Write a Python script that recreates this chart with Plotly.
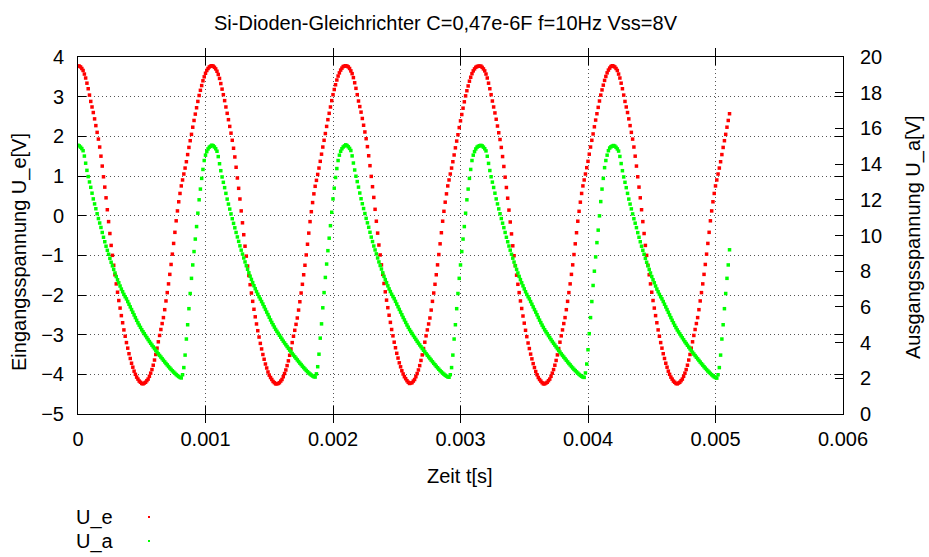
import plotly.graph_objects as go

# Sampling clock of the recording (s)
dt = 0.00001

# Eingangsspannung U_e [V] (left axis)
u_e = [
    # falling 0 .. 0.51 ms
    3.77, 3.77, 3.75, 3.71, 3.66, 3.57, 3.47, 3.34, 3.20, 3.04, 2.88, 2.74, 2.60, 2.44, 2.27, 2.10, 1.93, 1.73, 1.50, 1.25,
    0.98, 0.72, 0.45, 0.15, -0.15, -0.45, -0.75, -1.00, -1.25, -1.49, -1.72, -1.93, -2.14, -2.33, -2.52, -2.70, -2.88, -3.04, -3.20, -3.34,
    -3.48, -3.60, -3.72, -3.82, -3.92, -4.00, -4.07, -4.12, -4.17, -4.20, -4.23, -4.24,
    # rising
    -4.22, -4.20, -4.16, -4.12, -4.05, -3.97, -3.88, -3.77, -3.64, -3.50, -3.34, -3.18, -3.02, -2.87, -2.72, -2.57, -2.37, -2.15, -1.94, -1.72,
    -1.48, -1.23, -0.97, -0.70, -0.42, -0.13, 0.12, 0.35, 0.56, 0.75, 0.90, 1.05, 1.20, 1.36, 1.54, 1.72, 1.89, 2.05, 2.23, 2.40,
    2.56, 2.72, 2.88, 3.03, 3.16, 3.28, 3.40, 3.50, 3.59, 3.66, 3.71, 3.75, 3.77,
    # falling 1.05 .. 1.56 ms
    3.78, 3.77, 3.74, 3.70, 3.64, 3.56, 3.46, 3.33, 3.19, 3.05, 2.90, 2.74, 2.58, 2.42, 2.25, 2.08, 1.90, 1.70, 1.48, 1.22,
    0.95, 0.69, 0.42, 0.12, -0.18, -0.48, -0.77, -1.02, -1.27, -1.51, -1.74, -1.95, -2.16, -2.36, -2.55, -2.73, -2.90, -3.06, -3.22, -3.36,
    -3.50, -3.62, -3.74, -3.84, -3.94, -4.02, -4.08, -4.13, -4.18, -4.21, -4.24, -4.24,
    # rising
    -4.23, -4.21, -4.17, -4.13, -4.06, -3.98, -3.89, -3.78, -3.66, -3.52, -3.36, -3.20, -3.04, -2.89, -2.74, -2.58, -2.38, -2.17, -1.95, -1.73,
    -1.49, -1.25, -0.99, -0.72, -0.44, -0.15, 0.10, 0.33, 0.55, 0.74, 0.89, 1.04, 1.20, 1.37, 1.55, 1.73, 1.90, 2.07, 2.25, 2.42,
    2.58, 2.74, 2.90, 3.05, 3.18, 3.30, 3.42, 3.52, 3.60, 3.67, 3.72, 3.76, 3.77,
    # falling 2.10 .. 2.60 ms
    3.78, 3.77, 3.75, 3.71, 3.65, 3.58, 3.48, 3.35, 3.21, 3.05, 2.89, 2.75, 2.61, 2.45, 2.28, 2.11, 1.94, 1.74, 1.51, 1.26,
    0.99, 0.73, 0.46, 0.16, -0.14, -0.44, -0.74, -0.99, -1.24, -1.48, -1.71, -1.92, -2.13, -2.32, -2.51, -2.69, -2.87, -3.03, -3.19, -3.33,
    -3.47, -3.59, -3.71, -3.81, -3.91, -3.99, -4.06, -4.11, -4.16, -4.20, -4.23,
    # rising
    -4.22, -4.21, -4.17, -4.13, -4.06, -3.98, -3.89, -3.78, -3.65, -3.51, -3.35, -3.19, -3.03, -2.88, -2.73, -2.58, -2.38, -2.16, -1.95, -1.73,
    -1.49, -1.24, -0.98, -0.71, -0.43, -0.14, 0.11, 0.34, 0.55, 0.75, 0.90, 1.05, 1.20, 1.36, 1.53, 1.71, 1.88, 2.04, 2.22, 2.39,
    2.55, 2.71, 2.87, 3.02, 3.15, 3.27, 3.39, 3.49, 3.58, 3.65, 3.70, 3.74, 3.76, 3.77,
    # falling 3.15 .. 3.66 ms
    3.77, 3.77, 3.74, 3.70, 3.65, 3.57, 3.47, 3.34, 3.20, 3.05, 2.89, 2.74, 2.59, 2.43, 2.26, 2.09, 1.92, 1.72, 1.49, 1.24,
    0.97, 0.71, 0.44, 0.14, -0.16, -0.46, -0.76, -1.01, -1.26, -1.50, -1.73, -1.94, -2.15, -2.34, -2.53, -2.71, -2.89, -3.05, -3.21, -3.35,
    -3.49, -3.61, -3.73, -3.83, -3.93, -4.01, -4.08, -4.13, -4.17, -4.21, -4.24, -4.24,
    # rising
    -4.22, -4.20, -4.16, -4.12, -4.05, -3.97, -3.88, -3.77, -3.65, -3.51, -3.35, -3.19, -3.03, -2.88, -2.72, -2.57, -2.37, -2.16, -1.94, -1.72,
    -1.48, -1.24, -0.98, -0.71, -0.43, -0.14, 0.11, 0.34, 0.56, 0.75, 0.90, 1.05, 1.21, 1.37, 1.55, 1.73, 1.90, 2.06, 2.24, 2.41,
    2.57, 2.73, 2.89, 3.04, 3.17, 3.29, 3.41, 3.51, 3.60, 3.67, 3.72, 3.76,
    # falling 4.19 .. 4.70 ms
    3.78, 3.77, 3.75, 3.71, 3.66, 3.57, 3.47, 3.34, 3.20, 3.04, 2.88, 2.74, 2.60, 2.44, 2.27, 2.10, 1.93, 1.73, 1.50, 1.25,
    0.98, 0.72, 0.45, 0.15, -0.15, -0.45, -0.75, -1.00, -1.25, -1.49, -1.72, -1.93, -2.14, -2.33, -2.52, -2.70, -2.88, -3.04, -3.20, -3.34,
    -3.48, -3.60, -3.72, -3.82, -3.92, -4.00, -4.07, -4.12, -4.17, -4.20, -4.23, -4.24,
    # rising to end 5.11 ms
    -4.22, -4.20, -4.16, -4.12, -4.05, -3.97, -3.88, -3.77, -3.64, -3.50, -3.34, -3.18, -3.02, -2.87, -2.72, -2.57, -2.37, -2.15, -1.94, -1.72,
    -1.48, -1.23, -0.97, -0.70, -0.42, -0.13, 0.12, 0.35, 0.56, 0.75, 0.90, 1.05, 1.20, 1.36, 1.54, 1.72, 1.89, 2.05, 2.23, 2.40,
    2.57,
]

# Ausgangsspannung U_a [V] (right axis)
u_a = [
    # decay 0 .. 0.81 ms
    15.05, 15.02, 14.95, 14.87, 14.75, 14.45, 14.05, 13.65, 13.30, 13.00, 12.70, 12.37, 12.05, 11.77, 11.50, 11.22, 10.95, 10.70, 10.45, 10.17,
    9.90, 9.65, 9.40, 9.17, 8.95, 8.72, 8.50, 8.30, 8.10, 7.90, 7.70, 7.52, 7.35, 7.17, 7.00, 6.85, 6.70, 6.57, 6.45, 6.30,
    6.15, 6.00, 5.85, 5.70, 5.55, 5.40, 5.25, 5.11, 4.98, 4.85, 4.72, 4.61, 4.50, 4.39, 4.28, 4.17, 4.06, 3.96, 3.86, 3.76,
    3.66, 3.56, 3.47, 3.37, 3.28, 3.19, 3.10, 3.01, 2.92, 2.83, 2.75, 2.66, 2.58, 2.50, 2.42, 2.35, 2.28, 2.21, 2.15, 2.10,
    2.05, 2.02,
    # charging
    2.2, 2.6, 3.3, 4.2, 5.0, 5.9, 6.75, 7.6, 8.35, 9.1, 9.8, 10.5, 11.25, 12.0, 12.6, 13.2, 13.7, 14.2, 14.5, 14.7,
    14.85, 14.95, 15.0,
    # decay 1.05 .. 1.86 ms
    15.06, 15.03, 14.96, 14.86, 14.72, 14.42, 14.02, 13.63, 13.28, 12.98, 12.68, 12.36, 12.04, 11.76, 11.48, 11.21, 10.94, 10.68, 10.43, 10.17,
    9.92, 9.67, 9.42, 9.18, 8.96, 8.74, 8.52, 8.31, 8.11, 7.91, 7.72, 7.54, 7.36, 7.19, 7.02, 6.86, 6.71, 6.57, 6.44, 6.30,
    6.16, 6.01, 5.86, 5.71, 5.57, 5.42, 5.27, 5.13, 5.00, 4.87, 4.74, 4.63, 4.52, 4.41, 4.30, 4.19, 4.08, 3.98, 3.88, 3.78,
    3.68, 3.58, 3.49, 3.39, 3.30, 3.21, 3.12, 3.03, 2.94, 2.85, 2.77, 2.68, 2.60, 2.52, 2.44, 2.37, 2.30, 2.24, 2.18, 2.13,
    2.09, 2.07,
    # charging
    2.25, 2.65, 3.35, 4.25, 5.05, 5.95, 6.8, 7.65, 8.4, 9.15, 9.85, 10.55, 11.3, 12.05, 12.65, 13.25, 13.75, 14.2, 14.5, 14.72,
    14.86, 14.96, 15.02,
    # decay 2.10 .. 2.91 ms
    15.08, 15.04, 14.97, 14.88, 14.76, 14.46, 14.06, 13.67, 13.32, 13.02, 12.71, 12.38, 12.06, 11.78, 11.51, 11.23, 10.96, 10.71, 10.46, 10.18,
    9.91, 9.66, 9.41, 9.19, 8.97, 8.74, 8.52, 8.32, 8.12, 7.91, 7.71, 7.53, 7.36, 7.18, 7.01, 6.86, 6.71, 6.58, 6.46, 6.31,
    6.16, 6.01, 5.86, 5.71, 5.56, 5.41, 5.27, 5.13, 4.99, 4.86, 4.73, 4.62, 4.51, 4.40, 4.29, 4.18, 4.07, 3.97, 3.87, 3.77,
    3.67, 3.57, 3.48, 3.38, 3.29, 3.20, 3.11, 3.02, 2.93, 2.84, 2.76, 2.67, 2.59, 2.51, 2.43, 2.36, 2.29, 2.23, 2.17, 2.12,
    2.08, 2.06,
    # charging
    2.2, 2.6, 3.3, 4.2, 5.0, 5.9, 6.75, 7.6, 8.35, 9.1, 9.8, 10.5, 11.25, 12.0, 12.6, 13.2, 13.7, 14.2, 14.5, 14.7,
    14.85, 14.95, 15.0, 15.03,
    # decay 3.16 .. 3.97 ms
    15.05, 15.02, 14.95, 14.86, 14.74, 14.44, 14.04, 13.64, 13.29, 12.99, 12.69, 12.37, 12.05, 11.77, 11.49, 11.22, 10.95, 10.69, 10.44, 10.17,
    9.90, 9.65, 9.41, 9.18, 8.95, 8.73, 8.51, 8.30, 8.10, 7.90, 7.71, 7.53, 7.35, 7.18, 7.01, 6.85, 6.70, 6.57, 6.45, 6.30,
    6.15, 6.00, 5.85, 5.71, 5.56, 5.41, 5.26, 5.12, 4.98, 4.85, 4.72, 4.61, 4.50, 4.39, 4.28, 4.17, 4.06, 3.96, 3.86, 3.76,
    3.66, 3.56, 3.47, 3.37, 3.28, 3.19, 3.10, 3.01, 2.92, 2.83, 2.75, 2.66, 2.58, 2.50, 2.43, 2.36, 2.29, 2.22, 2.16, 2.11,
    2.07, 2.05,
    # charging
    2.3, 2.8, 3.6, 4.5, 5.4, 6.3, 7.2, 8.0, 8.8, 9.6, 10.3, 11.1, 11.9, 12.6, 13.2, 13.8, 14.2, 14.5, 14.75, 14.9,
    14.97, 15.01,
    # decay 4.20 .. 5.01 ms
    15.04, 15.01, 14.94, 14.85, 14.73, 14.43, 14.03, 13.63, 13.28, 12.98, 12.68, 12.36, 12.04, 11.76, 11.49, 11.21, 10.94, 10.69, 10.44, 10.16,
    9.90, 9.65, 9.40, 9.17, 8.95, 8.72, 8.50, 8.30, 8.10, 7.90, 7.70, 7.52, 7.35, 7.17, 7.00, 6.85, 6.70, 6.57, 6.45, 6.30,
    6.15, 6.00, 5.85, 5.70, 5.55, 5.40, 5.25, 5.11, 4.97, 4.84, 4.71, 4.60, 4.49, 4.38, 4.27, 4.16, 4.05, 3.95, 3.85, 3.75,
    3.65, 3.55, 3.46, 3.36, 3.27, 3.18, 3.09, 3.00, 2.91, 2.82, 2.74, 2.65, 2.57, 2.49, 2.41, 2.34, 2.27, 2.20, 2.14, 2.08,
    2.04, 2.01,
    # charging to end 5.11 ms
    2.2, 2.6, 3.3, 4.2, 5.0, 5.9, 6.75, 7.6, 8.35, 9.2,
]

t_e = [i * dt for i in range(len(u_e))]
t_a = [i * dt for i in range(len(u_a))]

x_ticks = [0, 0.001, 0.002, 0.003, 0.004, 0.005, 0.006]
x_tick_text = ["0", "0.001", "0.002", "0.003", "0.004", "0.005", "0.006"]
y_ticks = [-5, -4, -3, -2, -1, 0, 1, 2, 3, 4]
y2_ticks = [0, 2, 4, 6, 8, 10, 12, 14, 16, 18, 20]

title_text = "Si-Dioden-Gleichrichter C=0,47e-6F f=10Hz Vss=8V"
series_names = ["U_e", "U_a"]
series_colors = ["#ff0000", "#00ff00"]

FONT = "Liberation Sans, Arial, sans-serif"
FS = 20

# plot area in pixels
L, R, T, B = 78, 843, 57, 414
W, H = 929, 557


def px(xp):
    return (xp - L) / (R - L)


def py(yp):
    return (B - yp) / (B - T)


fig = go.Figure()
fig.add_trace(go.Scatter(x=t_e, y=u_e, mode="markers", name=series_names[0],
                         marker=dict(symbol="square", size=3.5, color=series_colors[0], line=dict(width=0)),
                         yaxis="y"))
fig.add_trace(go.Scatter(x=t_a, y=u_a, mode="markers", name=series_names[1],
                         marker=dict(symbol="square", size=3.5, color=series_colors[1], line=dict(width=0)),
                         yaxis="y2"))

axis_common = dict(showline=True, linecolor="black", linewidth=1, ticks="inside", ticklen=8,
                   tickcolor="black", tickwidth=1, zeroline=False,
                   tickfont=dict(family=FONT, size=FS, color="black"))
grid_common = dict(showgrid=True, gridcolor="#555555", griddash="1px,3px", gridwidth=1)

fig.update_layout(
    width=W, height=H,
    margin=dict(l=L, r=W - R, t=T, b=H - B, pad=0),
    paper_bgcolor="white", plot_bgcolor="white",
    showlegend=False,
    font=dict(family=FONT, size=FS, color="black"),
    xaxis=dict(range=[0, 0.006], tickvals=x_ticks, ticktext=x_tick_text, mirror="allticks",
               ticklabelstandoff=7, **grid_common, **axis_common),
    yaxis=dict(range=[-5, 4], tickvals=y_ticks, mirror="allticks",
               ticklabelstandoff=9, **grid_common, **axis_common),
    yaxis2=dict(range=[0, 20], tickvals=y2_ticks, overlaying="y", side="right",
                ticklabelstandoff=12, showgrid=False, **axis_common),
)

ann = []
ann.append(dict(text=title_text, x=px(446), y=py(23), xref="paper", yref="paper",
                xanchor="center", yanchor="middle", showarrow=False, font=dict(family=FONT, size=FS)))
ann.append(dict(text="Zeit t[s]", x=px(460), y=py(476), xref="paper", yref="paper",
                xanchor="center", yanchor="middle", showarrow=False, font=dict(family=FONT, size=FS)))
ann.append(dict(text="Eingangsspannung U_e[V]", x=px(19), y=py(252), xref="paper", yref="paper",
                xanchor="center", yanchor="middle", textangle=-90, showarrow=False,
                font=dict(family=FONT, size=FS)))
ann.append(dict(text="Ausgangsspannung U_a[V]", x=px(913), y=py(237), xref="paper", yref="paper",
                xanchor="center", yanchor="middle", textangle=-90, showarrow=False,
                font=dict(family=FONT, size=FS)))
legend_y = [517, 541]
shapes = []
for name, col, ly in zip(series_names, series_colors, legend_y):
    ann.append(dict(text=name, x=px(74), y=py(ly), xref="paper", yref="paper",
                    xanchor="left", yanchor="middle", showarrow=False, font=dict(family=FONT, size=FS)))
    shapes.append(dict(type="rect", xref="paper", yref="paper",
                       x0=px(148), x1=px(150), y0=py(ly + 1), y1=py(ly - 1),
                       fillcolor=col, line=dict(width=0)))
fig.update_layout(annotations=ann, shapes=shapes)

fig.write_html("out.html", config={"displayModeBar": False},
               post_script="document.body.style.margin='0px';document.body.style.padding='0px';")
